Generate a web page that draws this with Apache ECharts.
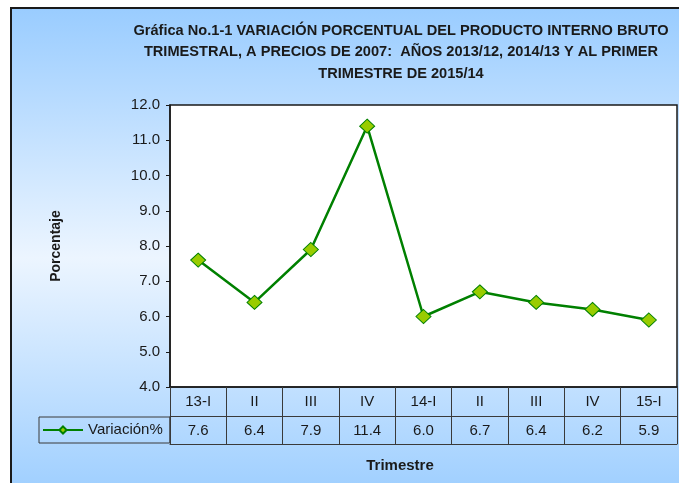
<!DOCTYPE html>
<html>
<head>
<meta charset="utf-8">
<script src="https://cdn.jsdelivr.net/npm/echarts@6/dist/echarts.min.js"></script>
<style>
html,body{margin:0;padding:0;background:#fff;}
#chart{width:679px;height:483px;}
</style>
</head>
<body>
<div id="chart"></div>
<script>
const categories = ['13-I', 'II', 'III', 'IV', '14-I', 'II', 'III', 'IV', '15-I'];
const values = [7.6, 6.4, 7.9, 11.4, 6.0, 6.7, 6.4, 6.2, 5.9];
const seriesName = 'Variación%';
const yTicks = [4, 12, 1];
const titleText = 'Gráfica No.1-1 VARIACIÓN PORCENTUAL DEL PRODUCTO INTERNO BRUTO\nTRIMESTRAL, A PRECIOS DE 2007:  AÑOS 2013/12, 2014/13 Y AL PRIMER\nTRIMESTRE DE 2015/14';

const FONT = '"Liberation Sans", Arial, sans-serif';
const tableLine = '#3a3a3a';

const chart = echarts.init(document.getElementById('chart'));
chart.setOption({
  backgroundColor: '#ffffff',
  animation: false,
  graphic: [{
    type: 'rect', z: -10, silent: true,
    shape: { x: 11, y: 8, width: 700, height: 500 },
    style: {
      fill: new echarts.graphic.LinearGradient(0, 0, 0, 1, [
        { offset: 0, color: '#99ccff' },
        { offset: 0.5, color: '#ecf5ff' },
        { offset: 1, color: '#99ccff' }
      ]),
      stroke: '#1a1a1a', lineWidth: 2
    }
  }],
  title: {
    text: titleText,
    left: 396, top: 15, textAlign: 'center',
    textStyle: { fontFamily: FONT, fontWeight: 'bold', fontSize: 14.6, lineHeight: 21.5, color: '#1a1a1a' }
  },
  legend: {
    data: [seriesName],
    left: 39, top: 417,
    orient: 'horizontal',
    padding: [5, 7, 5, 3],
    itemWidth: 40, itemHeight: 9,
    borderColor: tableLine, borderWidth: 1, borderRadius: 0,
    textStyle: { fontFamily: FONT, fontSize: 15, color: '#1a1a1a', lineHeight: 16 }
  },
  grid: {
    left: 170, right: 2, top: 105, bottom: 96,
    show: true, backgroundColor: '#ffffff', borderColor: '#1a1a1a', borderWidth: 1.5
  },
  yAxis: {
    type: 'value', min: yTicks[0], max: yTicks[1], interval: yTicks[2],
    name: 'Porcentaje', nameLocation: 'middle', nameGap: 107,
    nameTextStyle: { fontFamily: FONT, fontWeight: 'bold', fontSize: 14, color: '#1a1a1a' },
    axisLine: { show: true, lineStyle: { color: '#1a1a1a', width: 1.5 } },
    axisTick: { show: true, length: 4, lineStyle: { color: '#1a1a1a' } },
    axisLabel: { margin: 10, fontFamily: FONT, fontSize: 15, color: '#1a1a1a', formatter: v => v.toFixed(1) },
    splitLine: { show: false }
  },
  xAxis: [{
    type: 'category', data: categories, position: 'bottom', boundaryGap: true,
    axisLine: { show: true, lineStyle: { color: '#1a1a1a', width: 1.5 } },
    axisTick: { show: true, interval: 0, length: 57, lineStyle: { color: tableLine } },
    axisLabel: { interval: 0, margin: 7, fontFamily: FONT, fontSize: 15, lineHeight: 15, color: '#1a1a1a' },
    splitLine: { show: false }
  }, {
    type: 'category', data: values.map(v => v.toFixed(1)), position: 'bottom', offset: 29.7, boundaryGap: true,
    axisLine: { show: true, lineStyle: { color: tableLine, width: 1 } },
    axisTick: { show: false },
    axisLabel: { interval: 0, margin: 6.5, fontFamily: FONT, fontSize: 15, lineHeight: 15, color: '#1a1a1a' },
    splitLine: { show: false }
  }, {
    type: 'category', data: categories, position: 'bottom', offset: 57, boundaryGap: true,
    name: 'Trimestre', nameLocation: 'middle', nameGap: 14,
    nameTextStyle: { fontFamily: FONT, fontWeight: 'bold', fontSize: 15, color: '#1a1a1a', padding: [0, 47, 0, 0], verticalAlign: 'top' },
    axisLine: { show: true, lineStyle: { color: tableLine, width: 1 } },
    axisTick: { show: false },
    axisLabel: { show: false },
    splitLine: { show: false }
  }],
  series: [{
    name: seriesName,
    type: 'line',
    xAxisIndex: 0,
    data: values,
    symbol: 'diamond',
    symbolSize: [15, 14],
    lineStyle: { color: '#008000', width: 2.5 },
    itemStyle: { color: '#99cc00', borderColor: '#008000', borderWidth: 1 },
    z: 5
  }]
});
</script>
</body>
</html>
